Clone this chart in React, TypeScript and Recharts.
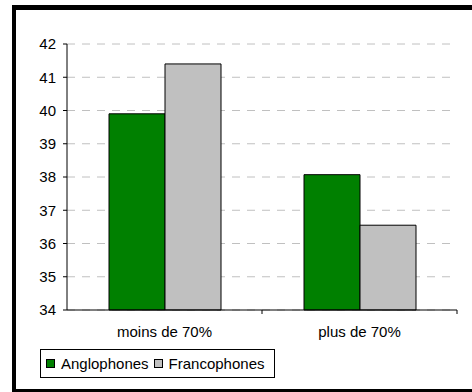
import { BarChart, Bar, XAxis, YAxis, CartesianGrid, Legend } from "recharts";

const categories = ["moins de 70%", "plus de 70%"];
const anglophones = [39.9, 38.07];
const francophones = [41.4, 36.55];
const yTicks = [34, 35, 36, 37, 38, 39, 40, 41, 42];

const data = categories.map((name, i) => ({
    name,
    Anglophones: anglophones[i],
    Francophones: francophones[i],
}));

const font = "'Liberation Sans', Arial, sans-serif";
const W = 472;
const H = 392;
const margin = { top: 44, right: 15, left: 0, bottom: 52 };
const yAxisWidth = 67;
// half of one category band, used to place the boundary ticks
const halfBand = (W - margin.left - margin.right - yAxisWidth) / categories.length / 2;

function CategoryTick({ x, y, payload }: any) {
    return (
        <g>
            <line x1={x + halfBand} x2={x + halfBand} y1={y} y2={y + 4} stroke="#000" />
            <text x={x} y={y + 27} textAnchor="middle" fontSize={15} fontFamily={font} fill="#000">
                {payload.value}
            </text>
        </g>
    );
}

function BoxLegend({ payload }: any) {
    return (
        <div
            style={{
                border: "1px solid #000",
                width: 233,
                height: 27,
                display: "flex",
                alignItems: "center",
                fontFamily: font,
                fontSize: 15,
                boxSizing: "content-box",
            }}
        >
            {(payload || []).map((p: any) => (
                <div key={p.value} style={{ display: "flex", alignItems: "center", marginLeft: 5 }}>
                    <span
                        style={{
                            display: "inline-block",
                            width: 7,
                            height: 7,
                            border: "1px solid #000",
                            background: p.color,
                            marginRight: 6,
                        }}
                    />
                    <span>{p.value}</span>
                </div>
            ))}
        </div>
    );
}

export default function App() {
    return (
        <div style={{ position: "absolute", left: 0, top: 0, width: W, height: H, background: "#fff" }}>
            <div
                style={{
                    position: "absolute",
                    left: 12,
                    top: 5,
                    width: W - 16,
                    height: H - 5 - 8,
                    borderLeft: "4px solid #000",
                    borderTop: "5px solid #000",
                    borderBottom: "3px solid #000",
                }}
            />
            <div style={{ position: "absolute", left: 0, top: 0 }}>
                <BarChart width={W} height={H} data={data} margin={margin} barGap={0}>
                    <CartesianGrid vertical={false} stroke="#c0c0c0" strokeDasharray="8 7" />
                    <XAxis
                        dataKey="name"
                        height={30}
                        stroke="#000"
                        tickLine={false}
                        tickSize={0}
                        tickMargin={0}
                        tick={<CategoryTick />}
                        interval={0}
                    />
                    <YAxis
                        width={yAxisWidth}
                        domain={[34, 42]}
                        ticks={yTicks}
                        interval={0}
                        stroke="#000"
                        tickSize={4}
                        tickMargin={7}
                        tick={{ fill: "#000", fontSize: 15, fontFamily: font }}
                    />
                    <Legend
                        verticalAlign="middle"
                        align="center"
                        layout="horizontal"
                        content={<BoxLegend />}
                        wrapperStyle={{ left: 40, top: 349, width: 240 }}
                    />
                    <Bar dataKey="Anglophones" fill="#008000" stroke="#000" strokeWidth={1} barSize={56} isAnimationActive={false} />
                    <Bar dataKey="Francophones" fill="#c0c0c0" stroke="#000" strokeWidth={1} barSize={56} isAnimationActive={false} />
                </BarChart>
            </div>
        </div>
    );
}
